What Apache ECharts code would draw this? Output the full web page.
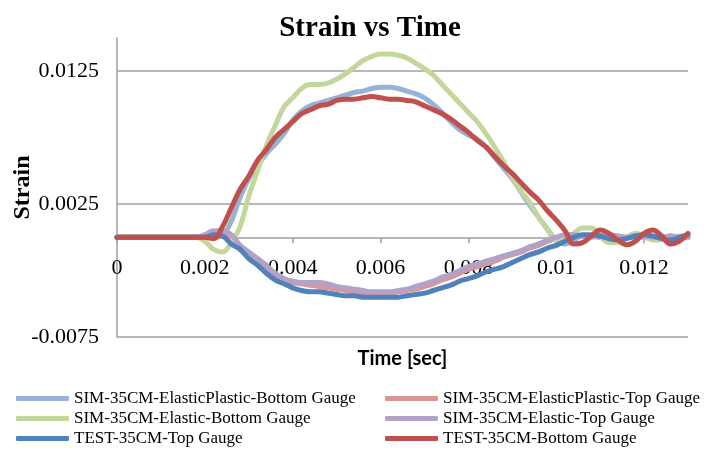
<!DOCTYPE html>
<html>
<head>
<meta charset="utf-8">
<script src="https://cdn.jsdelivr.net/npm/echarts@6/dist/echarts.min.js"></script>
<style>html,body{margin:0;padding:0;background:#fff}#c{width:721px;height:451px}</style>
</head>
<body>
<div id="c"></div>
<script>
const seriesNames = [
  'SIM-35CM-ElasticPlastic-Bottom Gauge',
  'SIM-35CM-ElasticPlastic-Top Gauge',
  'SIM-35CM-Elastic-Bottom Gauge',
  'SIM-35CM-Elastic-Top Gauge',
  'TEST-35CM-Top Gauge',
  'TEST-35CM-Bottom Gauge'
];
const seriesColors = ['#95B3D7', '#D99694', '#C3D69B', '#B3A2C7', '#4F81BD', '#C0504D'];

const time = [
  0, 0.0002, 0.0004, 0.0006, 0.0008, 0.0010, 0.0012, 0.0014, 0.0016, 0.0018,
  0.0020, 0.0022, 0.0024, 0.0026, 0.0028, 0.0030, 0.0032, 0.0034, 0.0036, 0.0038,
  0.0040, 0.0042, 0.0044, 0.0046, 0.0048, 0.0050, 0.0052, 0.0054, 0.0056, 0.0058,
  0.0060, 0.0062, 0.0064, 0.0066, 0.0068, 0.0070, 0.0072, 0.0074, 0.0076, 0.0078,
  0.0080, 0.0082, 0.0084, 0.0086, 0.0088, 0.0090, 0.0092, 0.0094, 0.0096, 0.0098,
  0.0100, 0.0102, 0.0104, 0.0106, 0.0108, 0.0110, 0.0112, 0.0114, 0.0116, 0.0118,
  0.0120, 0.0122, 0.0124, 0.0126, 0.0128, 0.0130
];

const simEPBottom = [
  0, 0, 0, 0, 0, 0, 0, 0, 0, 0,
  0, 0.0001, 0.0002, 0.0012, 0.0030, 0.0044, 0.0054, 0.0063, 0.0070, 0.0078,
  0.0088, 0.0095, 0.0099, 0.0101, 0.0103, 0.0105, 0.0107, 0.0109, 0.0110, 0.0112,
  0.0113, 0.0113, 0.0112, 0.0110, 0.0108, 0.0105, 0.0100, 0.0094, 0.0087, 0.0081,
  0.0077, 0.0074, 0.0068, 0.0060, 0.0052, 0.0044, 0.0034, 0.0024, 0.0015, 0.0006,
  -0.0002, -0.0005, -0.0002, 0.0001, 0.0001, 0, -0.0002, -0.0002, 0, 0.0001,
  0, -0.0001, 0, 0.0001, 0, 0
];
const simEPTop = [
  0, 0, 0, 0, 0, 0, 0, 0, 0, 0,
  0.0001, 0.0003, 0.0003, 0, -0.0006, -0.0012, -0.0018, -0.0024, -0.0029, -0.0032,
  -0.0034, -0.0035, -0.0036, -0.0037, -0.0038, -0.0039, -0.0040, -0.0041, -0.0042, -0.0042,
  -0.0042, -0.0042, -0.0041, -0.0040, -0.0039, -0.0037, -0.0035, -0.0032, -0.0030, -0.0027,
  -0.0024, -0.0022, -0.0020, -0.0018, -0.0015, -0.0013, -0.0011, -0.0008, -0.0006, -0.0003,
  -0.0001, 0.0001, 0.0002, 0.0001, 0.0001, 0, 0.0001, 0.0001, 0, 0,
  0.0001, 0, 0, 0, 0, 0
];
const simEBottom = [
  0, 0, 0, 0, 0, 0, 0, 0, 0, 0,
  -0.0003, -0.0009, -0.0011, -0.0004, 0.0008, 0.0031, 0.0050, 0.0069, 0.0084, 0.0098,
  0.0105, 0.0112, 0.0115, 0.0115, 0.0116, 0.0119, 0.0123, 0.0128, 0.0133, 0.0136,
  0.0138, 0.0138, 0.0137, 0.0135, 0.0131, 0.0127, 0.0122, 0.0115, 0.0108, 0.0101,
  0.0094, 0.0087, 0.0078, 0.0068, 0.0057, 0.0045, 0.0035, 0.0026, 0.0015, 0.0006,
  -0.0002, -0.0002, 0.0003, 0.0007, 0.0007, 0.0001, -0.0004, -0.0004, 0, 0.0003,
  0.0001, -0.0002, -0.0002, 0, 0.0001, 0
];
const simETop = [
  0, 0, 0, 0, 0, 0, 0, 0, 0, 0,
  0.0002, 0.0005, 0.0005, 0.0002, -0.0006, -0.0011, -0.0016, -0.0021, -0.0027, -0.0031,
  -0.0033, -0.0034, -0.0034, -0.0034, -0.0035, -0.0037, -0.0038, -0.0039, -0.0040, -0.0041,
  -0.0041, -0.0041, -0.0040, -0.0039, -0.0037, -0.0035, -0.0033, -0.0030, -0.0028, -0.0025,
  -0.0022, -0.0020, -0.0018, -0.0016, -0.0014, -0.0012, -0.0010, -0.0007, -0.0005, -0.0002,
  0, 0.0002, 0.0002, 0.0001, 0, 0.0001, 0.0002, 0.0001, 0, 0.0001,
  0.0001, 0, 0, 0.0001, 0, 0
];
const testTop = [
  0, 0, 0, 0, 0, 0, 0, 0, 0, 0,
  0, 0.0002, 0.0001, -0.0005, -0.0009, -0.0016, -0.0021, -0.0027, -0.0032, -0.0035,
  -0.0038, -0.0040, -0.0041, -0.0041, -0.0042, -0.0043, -0.0044, -0.0044, -0.0045, -0.0045,
  -0.0045, -0.0045, -0.0045, -0.0044, -0.0043, -0.0042, -0.0040, -0.0038, -0.0036, -0.0033,
  -0.0031, -0.0029, -0.0026, -0.0024, -0.0022, -0.0019, -0.0016, -0.0013, -0.0011, -0.0008,
  -0.0006, -0.0003, 0, 0.0002, 0.0002, 0.0001, -0.0001, -0.0002, -0.0001, 0.0001,
  0.0002, 0.0001, -0.0001, -0.0002, 0, 0.0002
];
const testBottom = [
  0, 0, 0, 0, 0, 0, 0, 0, 0, 0,
  0, -0.0001, 0.0008, 0.0022, 0.0036, 0.0046, 0.0058, 0.0066, 0.0075, 0.0081,
  0.0087, 0.0093, 0.0096, 0.0099, 0.0100, 0.0103, 0.0104, 0.0104, 0.0105, 0.0106,
  0.0105, 0.0104, 0.0104, 0.0103, 0.0102, 0.0099, 0.0096, 0.0093, 0.0089, 0.0084,
  0.0079, 0.0073, 0.0068, 0.0061, 0.0054, 0.0048, 0.0041, 0.0034, 0.0028, 0.0020,
  0.0013, 0.0005, -0.0005, -0.0004, 0.0001, 0.00056, 0.0003, -0.0002, -0.00056, -0.0003,
  0.0003, 0.00055, 0.0001, -0.0005, -0.0003, 0.0003
];

const yLabelValues = [-0.0075, 0.0025, 0.0125];
const xLabelValues = [0, 0.002, 0.004, 0.006, 0.008, 0.01, 0.012];

const allValues = [simEPBottom, simEPTop, simEBottom, simETop, testTop, testBottom];

const chart = echarts.init(document.getElementById('c'), null, {renderer: 'canvas'});
const gray = '#A0A0A0';

const series = allValues.map((vals, k) => ({
  name: seriesNames[k],
  type: 'line',
  data: time.map((t, i) => [t, vals[i]]),
  showSymbol: false,
  smooth: 0.4,
  lineStyle: {width: 5, color: seriesColors[k], cap: 'round', join: 'round'},
  itemStyle: {color: seriesColors[k]},
  emphasis: {disabled: true},
  animation: false
}));

const legendCommon = {
  orient: 'vertical',
  top: 390,
  height: 100,
  padding: 0,
  itemWidth: 53,
  itemHeight: 5,
  itemGap: 3,
  icon: 'roundRect',
  selectedMode: false,
  textStyle: {fontFamily: 'Liberation Serif', fontSize: 17, color: '#000', lineHeight: 17}
};

chart.setOption({
  backgroundColor: '#fff',
  animation: false,
  title: {
    text: 'Strain vs Time',
    left: 365,
    top: 9,
    textAlign: 'center',
    textStyle: {fontFamily: 'Liberation Serif', fontWeight: 'bold', fontSize: 29, color: '#000'}
  },
  legend: [
    Object.assign({}, legendCommon, {left: 16, data: [seriesNames[0], seriesNames[2], seriesNames[4]]}),
    Object.assign({}, legendCommon, {left: 385, data: [seriesNames[1], seriesNames[3], seriesNames[5]]})
  ],
  grid: {left: 117, right: 33, top: 38, bottom: 114, containLabel: false, outerBoundsMode: 'none'},
  xAxis: {
    type: 'value',
    min: 0,
    max: 0.013,
    interval: 0.002,
    name: 'Time [sec]',
    nameLocation: 'middle',
    nameGap: 12,
    nameMoveOverlap: false,
    nameTextStyle: {fontFamily: 'Lato', fontWeight: 'bold', fontSize: 20, color: '#000'},
    axisLine: {onZero: true, lineStyle: {color: gray, width: 1.5}},
    axisTick: {show: true, length: 6, lineStyle: {color: gray, width: 1.5}},
    axisLabel: {
      margin: -80,
      fontFamily: 'Liberation Serif',
      fontSize: 22,
      color: '#000',
      showMaxLabel: false,
      formatter: v => xLabelValues.some(x => Math.abs(x - v) < 1e-9) ? String(+v.toFixed(4)) : ''
    },
    splitLine: {show: false}
  },
  yAxis: {
    type: 'value',
    min: -0.0075,
    max: 0.015,
    interval: 0.0025,
    name: 'Strain',
    nameLocation: 'middle',
    nameGap: 82,
    nameMoveOverlap: false,
    nameTextStyle: {fontFamily: 'Liberation Serif', fontWeight: 'bold', fontSize: 24, color: '#000'},
    axisLine: {show: true, onZero: false, lineStyle: {color: gray, width: 1.5}},
    axisTick: {show: false},
    axisLabel: {
      margin: 18,
      fontFamily: 'Liberation Serif',
      fontSize: 22,
      color: '#000',
      formatter: v => yLabelValues.some(y => Math.abs(y - v) < 1e-9) ? v.toFixed(4) : ''
    },
    splitLine: {
      show: true,
      lineStyle: {color: [gray, 'rgba(0,0,0,0)', 'rgba(0,0,0,0)', 'rgba(0,0,0,0)'], width: 1.5}
    }
  },
  series: series
});
</script>
</body>
</html>
